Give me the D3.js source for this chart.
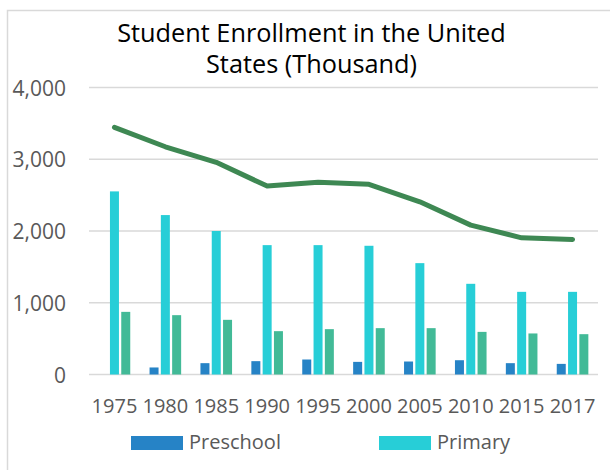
<!DOCTYPE html>
<html>
<head>
<meta charset="utf-8">
<script src="https://cdn.jsdelivr.net/npm/d3@7"></script>
<style>
  html, body { margin: 0; padding: 0; background: #fff; }
  svg { display: block; font-family: "Open Sans", sans-serif; }
</style>
</head>
<body>
<svg id="chart" width="610" height="470"></svg>
<script>
// ---- data ----
const years = ["1975", "1980", "1985", "1990", "1995", "2000", "2005", "2010", "2015", "2017"];
const preschool = [0, 98, 158, 186, 209, 176, 181, 199, 158, 148];
const primary = [2552, 2222, 2000, 1803, 1803, 1794, 1552, 1264, 1152, 1152];
const secondary = [873, 827, 762, 604, 632, 646, 646, 594, 572, 562];
const total = [3445, 3174, 2957, 2626, 2678, 2650, 2407, 2082, 1905, 1883];
const yTicks = [0, 1000, 2000, 3000, 4000];
const titleLines = ["Student Enrollment in the United", "States (Thousand)"];
const legendItems = ["Preschool", "Primary"];

const colors = { Preschool: "#2683C6", Primary: "#27CED7", Secondary: "#42BA97", Total: "#3E8853" };
const barSeries = [
  { name: "Preschool", values: preschool },
  { name: "Primary", values: primary },
  { name: "Secondary", values: secondary }
];

const svg = d3.select("#chart");

// chart frame (cropped)
svg.append("rect")
  .attr("x", 7.5).attr("y", 10.5).attr("width", 800).attr("height", 700)
  .attr("fill", "none").attr("stroke", "#d9d9d9").attr("stroke-width", 1.5);

const plot = { left: 89, right: 598, top: 87.5, bottom: 374.5 };

const x = d3.scaleBand().domain(years).range([plot.left, plot.right]).padding(0);
const y = d3.scaleLinear().domain([0, 4000]).range([plot.bottom, plot.top]);

// gridlines
svg.append("g").selectAll("line").data(yTicks).join("line")
  .attr("x1", plot.left).attr("x2", plot.right)
  .attr("y1", d => y(d)).attr("y2", d => y(d))
  .attr("stroke", "#d9d9d9").attr("stroke-width", 1.4);

// y axis labels
const yAxis = d3.axisLeft(y).tickValues(yTicks).tickFormat(d3.format(",")).tickSize(0).tickPadding(0);
const gy = svg.append("g").attr("transform", "translate(66,0)").call(yAxis);
gy.select(".domain").remove();
gy.selectAll("text").attr("font-size", 21).attr("fill", "#595959")
  .attr("font-family", "Open Sans, sans-serif").attr("dy", "0.36em");

// x axis labels
const xAxis = d3.axisBottom(x).tickSize(0).tickPadding(0);
const gx = svg.append("g").attr("transform", "translate(0,413)").call(xAxis);
gx.select(".domain").remove();
gx.selectAll("text").attr("font-size", 20).attr("fill", "#595959")
  .attr("font-family", "Open Sans, sans-serif").attr("dy", "0");

// bars
const barW = 9, step = 11.3;
barSeries.forEach((s, si) => {
  svg.append("g").selectAll("rect").data(s.values.map((v, i) => ({ v, yr: years[i] })))
    .join("rect")
    .attr("x", d => x(d.yr) + x.bandwidth() / 2 + (si - 1) * step - barW / 2)
    .attr("y", d => y(d.v))
    .attr("width", barW)
    .attr("height", d => y(0) - y(d.v))
    .attr("fill", colors[s.name]);
});

// line
const line = d3.line().x((d, i) => x(years[i]) + x.bandwidth() / 2).y(d => y(d));
svg.append("path").datum(total)
  .attr("d", line).attr("fill", "none")
  .attr("stroke", colors.Total).attr("stroke-width", 5)
  .attr("stroke-linecap", "round").attr("stroke-linejoin", "round");

// title
svg.append("g").selectAll("text").data(titleLines).join("text")
  .attr("x", 311.5).attr("y", (d, i) => 41.7 + i * 31.6)
  .attr("text-anchor", "middle").attr("font-size", 25.3).attr("fill", "#000")
  .text(d => d);

// legend
const legendX = [131, 379];
const lg = svg.append("g").selectAll("g").data(legendItems).join("g")
  .attr("transform", (d, i) => `translate(${legendX[i]},436)`);
lg.append("rect").attr("width", 52).attr("height", 14).attr("fill", d => colors[d]);
lg.append("text").attr("x", 58).attr("y", 12.5).attr("font-size", 20).attr("fill", "#595959").text(d => d);
</script>
</body>
</html>
